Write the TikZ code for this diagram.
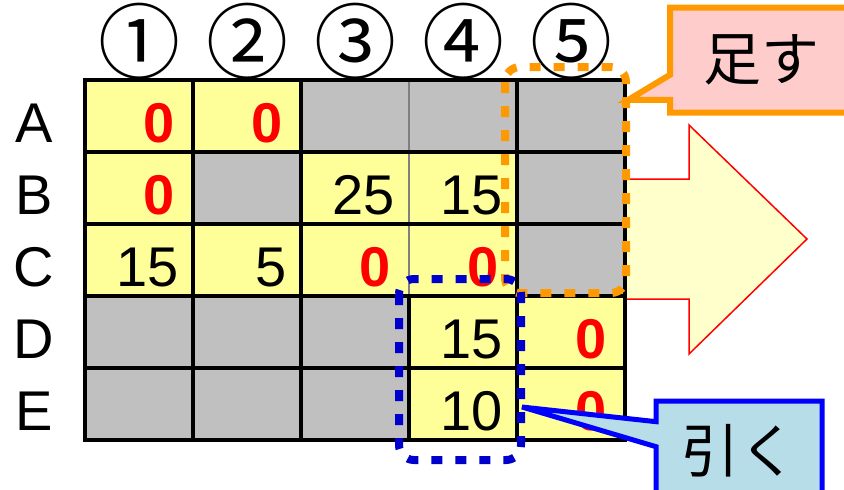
\documentclass[tikz,border=0pt]{standalone}
\usepackage{fontspec}
\setmainfont{Liberation Sans}
\newfontfamily\jpfont{Noto Sans CJK JP}
\usetikzlibrary{shapes.callouts}

\definecolor{cellyellow}{HTML}{FFFF99}
\definecolor{cellgrey}{HTML}{C0C0C0}
\definecolor{addorange}{HTML}{FF9900}
\definecolor{addpink}{HTML}{FFCCCC}
\definecolor{subblue}{HTML}{0000CC}
\definecolor{subcyan}{HTML}{B7DEE8}
\definecolor{arrowfill}{HTML}{FFFFCC}

\begin{document}
\begin{tikzpicture}[x=1pt,y=-1pt,
  gridline/.style={line width=3.5pt,line cap=rect},
  num/.style={anchor=base east,inner sep=0pt,font=\fontsize{56}{60}\selectfont},
  zero/.style={num,xshift=-4pt,text=red,font=\fontsize{56}{60}\selectfont\bfseries},
  rowlab/.style={anchor=base,inner sep=0pt,font=\fontsize{56}{60}\selectfont},
  collab/.style={inner sep=0pt,font=\jpfont\fontsize{82}{84}\selectfont},
  dots/.style={line width=8pt,dash pattern=on 11pt off 13pt,rounded corners=15pt},
  jptext/.style={font=\jpfont\fontsize{58}{60}\selectfont,rectangle callout,callout pointer width=25pt}]
\useasboundingbox (0,0) rectangle (844,490);
\clip (0,0) rectangle (844,490);

% big arrow to the right
\filldraw[fill=arrowfill,draw=red,line width=1.5pt] (625,179) -- (689,179) -- (689,125) -- (807,239) -- (689,354) -- (689,299) -- (625,299);

% cells
\fill[cellgrey] (85,80) rectangle (625,440);
\foreach \c/\r in {0/0,1/0,0/1,2/1,3/1,0/2,1/2,2/2,3/2,3/3,4/3,3/4,4/4}
  \fill[cellyellow] (85+108*\c,80+72*\r) rectangle ++(108,72);
\draw[gray,line width=1.5pt] (409,80) -- (409,296);
\foreach \r in {0,...,5} \draw[gridline] (85,80+72*\r) -- (625,80+72*\r);
\foreach \c in {0,1,2,4,5} \draw[gridline] (85+108*\c,80) -- (85+108*\c,440);
\draw[gridline] (409,296) -- (409,440);

% column and row labels
\node[collab] (c1) at (139,41) {①};
\node[collab] (c2) at (247,41) {②};
\node[collab] (c3) at (355,41) {③};
\node[collab] (c4) at (463,41) {④};
\node[collab] (c5) at (571,41) {⑤};
\node[rowlab] (rA) at (34,142) {A};
\node[rowlab] (rB) at (34,214) {B};
\node[rowlab] (rC) at (34,286) {C};
\node[rowlab] (rD) at (34,358) {D};
\node[rowlab] (rE) at (34,430) {E};

% values
\node[zero] (nA1) at (179,142) {0};
\node[zero] (nA2) at (287,142) {0};
\node[zero] (nB1) at (179,214) {0};
\node[num] (nB3) at (395,214) {25};
\node[num] (nB4) at (503,214) {15};
\node[num] (nC1) at (179,286) {15};
\node[num] (nC2) at (287,286) {5};
\node[zero] (nC3) at (395,286) {0};
\node[zero] (nC4) at (503,286) {0};
\node[num] (nD4) at (503,358) {15};
\node[zero] (nD5) at (611,358) {0};
\node[num] (nE4) at (503,430) {10};
\node[zero] (nE5) at (611,430) {0};

% dotted frames
\draw[dots,addorange] (505,67) rectangle (626,293);
\draw[dots,subblue] (399,279) rectangle (521,460);

% callouts
\coordinate (addtip) at (628,100);
\coordinate (subtip) at (522,407);
\node[jptext,fill=addpink,draw=addorange,line width=6pt,minimum width=182pt,minimum height=105pt,
  callout absolute pointer={(addtip)}] (add) at (761,60) {足す};
\node[jptext,fill=subcyan,draw=blue,line width=5pt,minimum width=166pt,minimum height=100pt,
  callout absolute pointer={(subtip)}] (sub) at (739,451) {引く};
\end{tikzpicture}
\end{document}
